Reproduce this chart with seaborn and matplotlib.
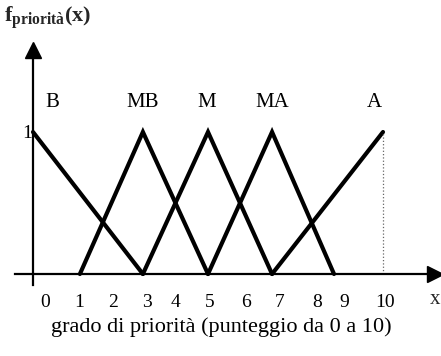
import matplotlib
matplotlib.use("Agg")
import matplotlib.pyplot as plt
import seaborn as sns
import pandas as pd

# ---- data ----
series_names = ["B", "B", "MB", "MB", "MB", "M", "M", "M", "MA", "MA", "MA", "A", "A"]
series_x = [0.0, 3.14, 1.34, 3.14, 5.0, 3.14, 5.0, 6.83, 5.0, 6.83, 8.6, 6.83, 10.0]
series_y = [1, 0, 0, 1, 0, 0, 1, 0, 0, 1, 0, 0, 1]

label_names = ["B", "MB", "M", "MA", "A"]
label_x = [0.55, 3.14, 4.97, 6.83, 9.74]
label_y = 1.21

tick_pos = [0.34, 1.31, 2.29, 3.26, 4.06, 5.06, 6.09, 7.06, 8.11, 8.89, 10.06]
tick_labels = ["0", "1", "2", "3", "4", "5", "6", "7", "8", "9", "10"]

xlabel = "grado di priorità (punteggio da 0 a 10)"

df = pd.DataFrame({"set": series_names, "x": series_x, "y": series_y})

sns.set_theme(style="white")
plt.rcParams["font.family"] = ["Liberation Serif", "DejaVu Serif"]
plt.rcParams["mathtext.fontset"] = "custom"
plt.rcParams["mathtext.rm"] = "Liberation Serif"
plt.rcParams["mathtext.bf"] = "Liberation Serif:bold"

W, H = 441, 356
fig = plt.figure(figsize=(W / 100, H / 100), dpi=100)
left, right, top, bottom = 15, 435, 50, 285
ax = fig.add_axes([left / W, 1 - bottom / H, (right - left) / W, (bottom - top) / H])

sns.lineplot(data=df, x="x", y="y", hue="set", palette=["black"] * 5,
             sort=False, estimator=None, legend=False, linewidth=3.0, ax=ax)
for ln in ax.get_lines():
    ln.set_solid_joinstyle("miter")

# dotted reference at x = 10
ax.vlines(10, 0, 1, colors="0.4", linestyles=":", linewidth=0.9)

ax.set_xlim((left - 33) / 35, (right - 33) / 35)
ax.set_ylim(-(bottom - 274) / 142, (274 - top) / 142)

for s in ["top", "right"]:
    ax.spines[s].set_visible(False)
ax.spines["left"].set_position(("data", 0))
ax.spines["bottom"].set_position(("data", 0))
for s in ["left", "bottom"]:
    ax.spines[s].set_color("black")
    ax.spines[s].set_linewidth(1.6)

ax.set_xticks(tick_pos, tick_labels)
ax.set_yticks([1], ["1"])
ax.tick_params(axis="x", length=0, pad=14.5, labelsize=14, colors="black")
ax.tick_params(axis="y", length=0, pad=1, labelsize=14, colors="black")

ax.plot(1, 0, ">", color="black", markersize=12, transform=ax.get_yaxis_transform(), clip_on=False)
ax.plot(0, 1, "^", color="black", markersize=12, transform=ax.get_xaxis_transform(), clip_on=False)

for name, lx in zip(label_names, label_x):
    ax.text(lx, label_y, name, ha="center", va="center", fontsize=15, color="black")

ax.set_xlabel(xlabel, fontsize=16, color="black")
ax.xaxis.set_label_coords((221 - left) / (right - left), (bottom - 327) / (bottom - top))
ax.xaxis.label.set_va("center")
ax.set_ylabel("")

fig.text(435 / W, 1 - 300 / H, "x", ha="center", va="center", fontsize=15)
fig.text(4 / W, 1 - 18 / H, r"$\mathbf{f}_{\mathbf{priorità}}\mathbf{(x)}$",
         ha="left", va="center", fontsize=16)

fig.savefig("out.png", dpi=100)
